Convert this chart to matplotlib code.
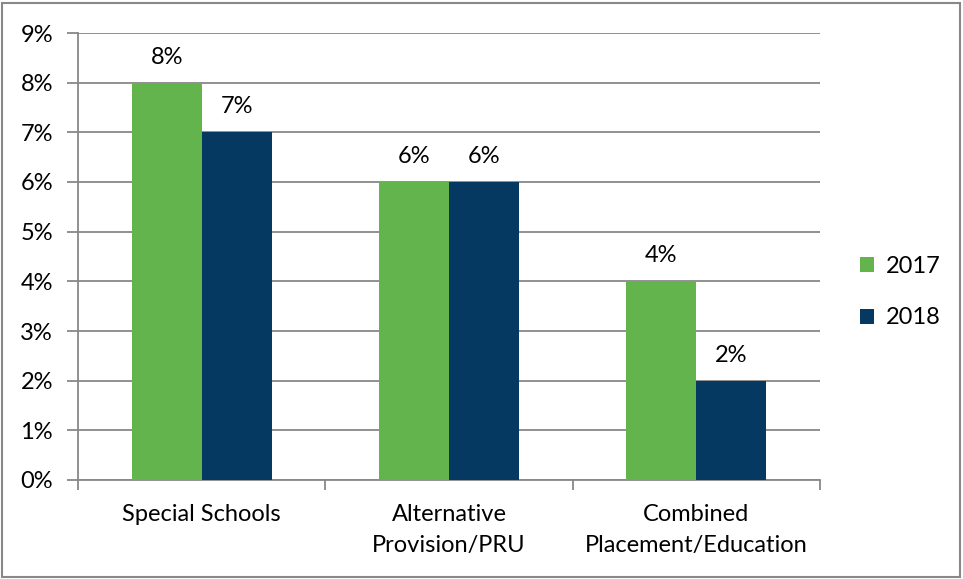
import matplotlib
matplotlib.use("Agg")
import matplotlib.pyplot as plt
from matplotlib.patches import Rectangle
import numpy as np

categories = ["Special Schools", "Alternative\nProvision/PRU", "Combined\nPlacement/Education"]
series_names = ["2017", "2018"]
values_2017 = [8, 6, 4]
values_2018 = [7, 6, 2]
ytick_labels = ["0%", "1%", "2%", "3%", "4%", "5%", "6%", "7%", "8%", "9%"]

green = "#64b44e"
navy = "#053961"
grid_gray = "#888888"
fs = 17

plt.rcParams["font.family"] = ["Lato", "DejaVu Sans"]

fig = plt.figure(figsize=(9.63, 5.79), dpi=100)
ax = fig.add_axes([78 / 963, 1 - 480 / 579, (820 - 78) / 963, (480 - 33) / 579])

x = np.arange(len(categories))
w = 70 / 247.3
ax.bar(x - w / 2, values_2017, width=w, color=green, label=series_names[0], zorder=3)
ax.bar(x + w / 2, values_2018, width=w, color=navy, label=series_names[1], zorder=3)

for xi, v in zip(x - w / 2, values_2017):
    ax.text(xi, v + 0.3, f"{v}%", ha="center", va="bottom", fontsize=fs, color="black")
for xi, v in zip(x + w / 2, values_2018):
    ax.text(xi, v + 0.3, f"{v}%", ha="center", va="bottom", fontsize=fs, color="black")

ax.set_xlim(-0.5, 2.5)
ax.set_ylim(0, 9)
ax.set_yticks(range(10))
ax.set_yticklabels(ytick_labels, fontsize=fs)
ax.yaxis.grid(True, color=grid_gray, linewidth=1.3, zorder=0)
ax.set_axisbelow(True)

ax.set_xticks([-0.5, 0.5, 1.5, 2.5])
ax.set_xticklabels([])
ax.set_xticks(x, minor=True)
ax.set_xticklabels(categories, minor=True, fontsize=fs, linespacing=1.6)
ax.tick_params(axis="x", which="minor", length=0, pad=17)
ax.tick_params(axis="x", which="major", length=7, color=grid_gray, width=1.3)
ax.tick_params(axis="y", length=8, color=grid_gray, width=1.3, pad=10)

for s in ["top", "right"]:
    ax.spines[s].set_visible(False)
for s in ["left", "bottom"]:
    ax.spines[s].set_color(grid_gray)
    ax.spines[s].set_linewidth(1.3)

leg = fig.legend(loc="center left", bbox_to_anchor=(839 / 963, 1 - 292 / 579),
                 frameon=False, fontsize=fs, handlelength=0.6, handleheight=0.6,
                 labelspacing=1.3, handletextpad=0.5)

fig.patches.append(Rectangle((2 / 963, 2 / 579), 958 / 963, 574 / 579, transform=fig.transFigure,
                             fill=False, edgecolor=grid_gray, linewidth=1.5))

fig.savefig("out.png", dpi=100)
